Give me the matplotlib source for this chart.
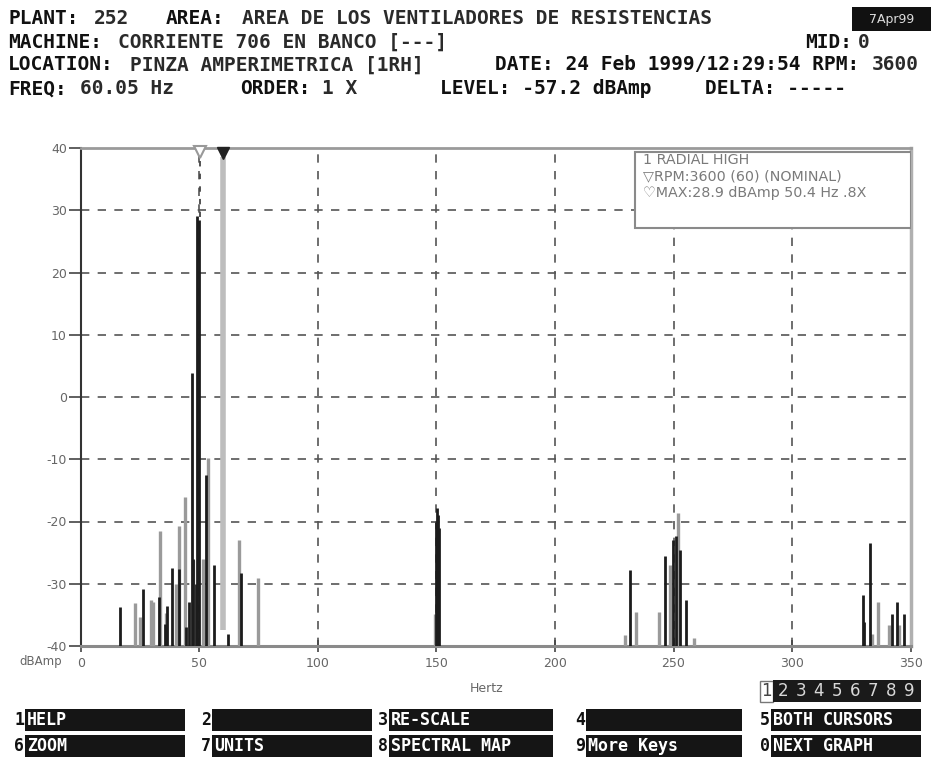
import matplotlib
matplotlib.use('Agg')
import matplotlib.pyplot as plt
from matplotlib.patches import Rectangle

W, H = 931, 762

# spectrum lines (Hz, dBAmp)
freq_dark = [16.6, 26.1, 33.2, 35.4, 36.5, 38.4, 41.6, 44.6, 45.5, 46.8, 47.3, 48.5,
             49.2, 49.8, 52.8, 56.2, 62.0, 67.5,
             149.8, 150.3, 150.8, 151.3,
             231.6, 246.4, 249.7, 251.1, 252.8, 255.3,
             329.7, 330.3, 332.9, 342.0, 344.2, 347.2]
level_dark = [-33.7, -30.8, -32.1, -36.5, -33.5, -27.5, -27.7, -37.0, -33.0, 3.8, -26.0, -30.0,
              29.0, 28.5, -12.5, -27.0, -38.0, -28.3,
              -20.0, -17.8, -19.0, -21.0,
              -27.8, -25.6, -23.0, -22.3, -24.6, -32.6,
              -31.8, -36.1, -23.4, -34.8, -32.9, -34.8]

freq_gray = [22.9, 25.0, 29.7, 30.5, 33.4, 36.0, 40.2, 41.4, 44.0, 47.2, 51.7, 53.8,
             66.9, 74.9, 149.2, 229.6, 234.2, 244.0, 248.5, 251.8, 258.8,
             333.5, 336.0, 341.0, 345.1]
level_gray = [-33.1, -35.3, -32.6, -33.0, -21.6, -34.7, -30.0, -20.8, -16.0, -26.2, -26.0, -9.8,
              -23.0, -29.1, -34.8, -38.2, -34.6, -34.6, -27.0, -18.7, -38.7,
              -38.0, -32.9, -36.6, -36.6]

rpm_freq = 60.0
max_freq, max_level = 50.4, 28.9

yticks = [40, 30, 20, 10, 0, -10, -20, -30, -40]
xticks = [0, 50, 100, 150, 200, 250, 300, 350]

legend_lines = ['1 RADIAL HIGH', '\u25bdRPM:3600 (60) (NOMINAL)', '\u2661MAX:28.9 dBAmp 50.4 Hz .8X']

header = [
    # (x px, y px, text, bold label)
    (8, 18, 'PLANT:', True), (94, 18, '252', False), (166, 18, 'AREA:', True),
    (242, 18, 'AREA DE LOS VENTILADORES DE RESISTENCIAS', False),
    (8, 42, 'MACHINE:', True), (118, 42, 'CORRIENTE 706 EN BANCO [---]', False),
    (805, 42, 'MID:', True), (858, 42, '0', False),
    (8, 65, 'LOCATION:', True), (130, 65, 'PINZA AMPERIMETRICA [1RH]', False),
    (495, 65, 'DATE: 24 Feb 1999/12:29:54 RPM:', True), (872, 65, '3600', False),
    (8, 89, 'FREQ:', True), (80, 89, '60.05 Hz', False),
    (240, 89, 'ORDER:', True), (322, 89, '1 X', False),
    (440, 89, 'LEVEL: -57.2 dBAmp', True), (705, 89, 'DELTA: -----', True),
]

softkeys_top = [('1', 'HELP'), ('2', ''), ('3', 'RE-SCALE'), ('4', ''), ('5', 'BOTH CURSORS')]
softkeys_bottom = [('6', 'ZOOM'), ('7', 'UNITS'), ('8', 'SPECTRAL MAP'), ('9', 'More Keys'), ('0', 'NEXT GRAPH')]
key_boxes = [(25, 185), (212, 372), (389, 553), (586, 742), (771, 921)]


def fx(x):
    return x / W


def fy(y):
    return 1 - y / H


fig = plt.figure(figsize=(W / 100, H / 100), dpi=100)
ax = fig.add_axes([fx(80.7), fy(646), (910.7 - 80.7) / W, (646 - 148) / H])

ax.set_xlim(0, 350)
ax.set_ylim(-40, 40)

# grid
for y in yticks[1:-1]:
    ax.axhline(y, color='#555555', lw=1.2, ls=(0, (5, 5)), zorder=1)
for x in xticks[1:-1]:
    ax.axvline(x, color='#555555', lw=1.2, ls=(0, (5, 5)), zorder=1)

# rpm cursor
ax.vlines(rpm_freq, -37.4, 38.5, color='#bdbdbd', lw=4, zorder=2)
ax.plot([rpm_freq], [39.2], marker='v', color='#222222', ms=9, clip_on=False, zorder=6)
# max cursor
ax.vlines(max_freq, max_level, 40, color='#444444', lw=1.3, ls=(0, (3, 4)), zorder=2)
ax.plot([max_freq], [39.4], marker='v', mfc='white', mec='#999999', ms=9, mew=1.5,
        clip_on=False, zorder=6)

ax.vlines(freq_gray, -40, level_gray, color='#9a9a9a', lw=2.4, zorder=3)
ax.vlines(freq_dark, -40, level_dark, color='#1c1c1c', lw=2.0, zorder=4)

# legend box
box_x0 = (635 - 80.7) / 2.371
box_y0 = 40 - (228 - 148) / 6.225
ax.add_patch(Rectangle((box_x0, box_y0), 350 - box_x0, 39.4 - box_y0,
                       facecolor='white', edgecolor='#8a8a8a', lw=1.5, zorder=5))
for i, line in enumerate(legend_lines):
    fig.text(fx(643), fy(160 + i * 16.5), line, fontsize=10.3, color='#7a7a7a',
             va='center', ha='left')

# spines
ax.spines['top'].set_color('#9a9a9a')
ax.spines['top'].set_linewidth(2)
ax.spines['bottom'].set_color('#8a8a8a')
ax.spines['bottom'].set_linewidth(2.2)
ax.spines['left'].set_color('#333333')
ax.spines['left'].set_linewidth(1.5)
ax.spines['right'].set_color('#b0b0b0')
ax.spines['right'].set_linewidth(2.5)

ax.set_yticks(yticks)
ax.set_yticklabels([str(v) for v in yticks])
ax.set_xticks(xticks)
ax.set_xticklabels([str(v) for v in xticks])
ax.tick_params(axis='y', direction='out', length=9, width=1.2, color='#444444',
               labelsize=9, labelcolor='#666666', pad=1)
ax.tick_params(axis='x', direction='inout', length=8, width=1.2, color='#444444',
               labelsize=9, labelcolor='#666666', pad=4)

fig.text(fx(62), fy(661), 'dBAmp', fontsize=8.5, color='#666666', ha='right', va='center')
fig.text(fx(487), fy(688), 'Hertz', fontsize=9, color='#666666', ha='center', va='center')

# header
for x, y, txt, bold in header:
    fig.text(fx(x), fy(y), txt, fontsize=14, family='DejaVu Sans Mono',
             weight='bold', color='#111111' if bold else '#2a2a2a', ha='left', va='center')

fig.patches.append(Rectangle((fx(852), fy(31)), (931 - 852) / W, 24 / H,
                             transform=fig.transFigure, facecolor='#111111', edgecolor='none'))
fig.text(fx(892), fy(19), '7Apr99', fontsize=9, color='#dddddd', ha='center', va='center')

# page selector
fig.patches.append(Rectangle((fx(760), fy(702)), 13 / W, 21 / H, transform=fig.transFigure,
                             facecolor='white', edgecolor='#777777', lw=1))
fig.patches.append(Rectangle((fx(773), fy(702)), 148 / W, 22 / H, transform=fig.transFigure,
                             facecolor='#1a1a1a', edgecolor='none'))
fig.text(fx(766.5), fy(691), '1', fontsize=12, color='#444444', ha='center', va='center')
for i, d in enumerate('23456789'):
    fig.text(fx(783 + i * 18), fy(691), d, fontsize=12, color='#d8d8d8', ha='center', va='center')

# soft keys
for row, (keys, yc) in enumerate([(softkeys_top, 720), (softkeys_bottom, 746)]):
    for (num, label), (x0, x1) in zip(keys, key_boxes):
        fig.patches.append(Rectangle((fx(x0), fy(yc + 11)), (x1 - x0) / W, 22 / H,
                                     transform=fig.transFigure, facecolor='#151515',
                                     edgecolor='none'))
        fig.text(fx(x0 - 1), fy(yc), num, fontsize=12, family='DejaVu Sans Mono',
                 weight='bold', color='#111111', ha='right', va='center')
        fig.text(fx(x0 + 2), fy(yc), label, fontsize=12, family='DejaVu Sans Mono',
                 weight='bold', color='white', ha='left', va='center')

fig.savefig('out.png', dpi=100)
